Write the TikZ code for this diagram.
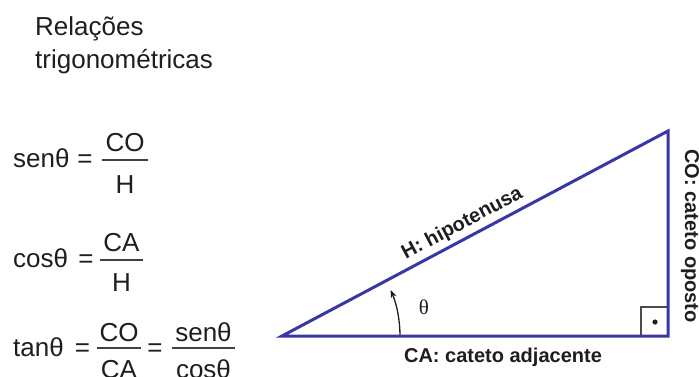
\documentclass[tikz,border=0pt]{standalone}
\usepackage{fontspec}
\setmainfont{Liberation Sans}
\newfontfamily\serifgr{Liberation Serif}
\usetikzlibrary{arrows.meta,calc}
\definecolor{triblue}{RGB}{55,55,165}
\definecolor{txt}{RGB}{30,30,30}
\tikzset{
  big/.style={font=\fontsize{26}{30}\selectfont, text=txt, inner sep=0pt},
  lbl/.style={font=\fontsize{20}{24}\selectfont\bfseries, text=txt, inner sep=1pt},
  fracbar/.style={draw=txt!85, line width=1.6pt},
  side/.style={draw=triblue, line width=3pt, line join=miter, line cap=butt},
}
\begin{document}
\begin{tikzpicture}[x=1pt,y=1pt]
\useasboundingbox (0,0) rectangle (699,-376);
% title
\node[big, anchor=base west] (t1) at (35,-35) {Relações};
\node[big, anchor=base west] (t2) at (35,-68) {trigonométricas};
% sen
\node[big, anchor=base west] (s1) at (13,-167) {senθ};
\node[big, anchor=base] (s2) at (85,-167) {=};
\coordinate (sb1) at (102,-160); \coordinate (sb2) at (148,-160);
\draw[fracbar] (sb1) -- (sb2);
\node[big, anchor=base] (s3) at (125,-151) {CO};
\node[big, anchor=base] (s4) at (125,-193) {H};
% cos
\node[big, anchor=base west] (c1) at (13,-267) {cosθ};
\node[big, anchor=base] (c2) at (86,-267) {=};
\coordinate (cb1) at (100,-260); \coordinate (cb2) at (143,-260);
\draw[fracbar] (cb1) -- (cb2);
\node[big, anchor=base] (c3) at (121.5,-251) {CA};
\node[big, anchor=base] (c4) at (121.5,-291) {H};
% tan
\node[big, anchor=base west] (n1) at (13,-356) {tanθ};
\node[big, anchor=base] (n2) at (82.5,-356) {=};
\coordinate (nb1) at (97,-348); \coordinate (nb2) at (141,-348);
\draw[fracbar] (nb1) -- (nb2);
\node[big, anchor=base] (n3) at (119,-341) {CO};
\node[big, anchor=base] (n4) at (119,-378) {CA};
\node[big, anchor=base] (n5) at (155,-356) {=};
\coordinate (mb1) at (172,-348); \coordinate (mb2) at (235,-348);
\draw[fracbar] (mb1) -- (mb2);
\node[big, anchor=base] (n6) at (203.5,-341) {senθ};
\node[big, anchor=base] (n7) at (203.5,-378) {cosθ};
% triangle
\coordinate (A) at (282,-336);
\coordinate (B) at (668,-336);
\coordinate (C) at (668,-131);
\coordinate (Q) at (641,-307);
\draw[draw=txt!80, line width=1.2pt] (Q) rectangle (B);
\fill[txt] (655,-322) circle (2.6);
\draw[-{Stealth[length=8pt,width=6pt]}, line width=1.3pt, txt] ($(A)+(118,0)$) arc[start angle=0, end angle=23, radius=118];
\node[font=\serifgr\fontsize{21}{24}\selectfont, text=txt] (th) at (424,-307) {θ};
\draw[side] (A) -- (B) -- (C) -- cycle;
\path (A) -- (C) node[lbl, inner sep=5pt, pos=0.485, sloped, above] (h) {H: hipotenusa};
\node[lbl, anchor=base] (ca) at (503,-362) {CA: cateto adjacente};
\node[lbl, rotate=-90] (co) at (690,-236) {CO: cateto oposto};
\end{tikzpicture}
\end{document}
